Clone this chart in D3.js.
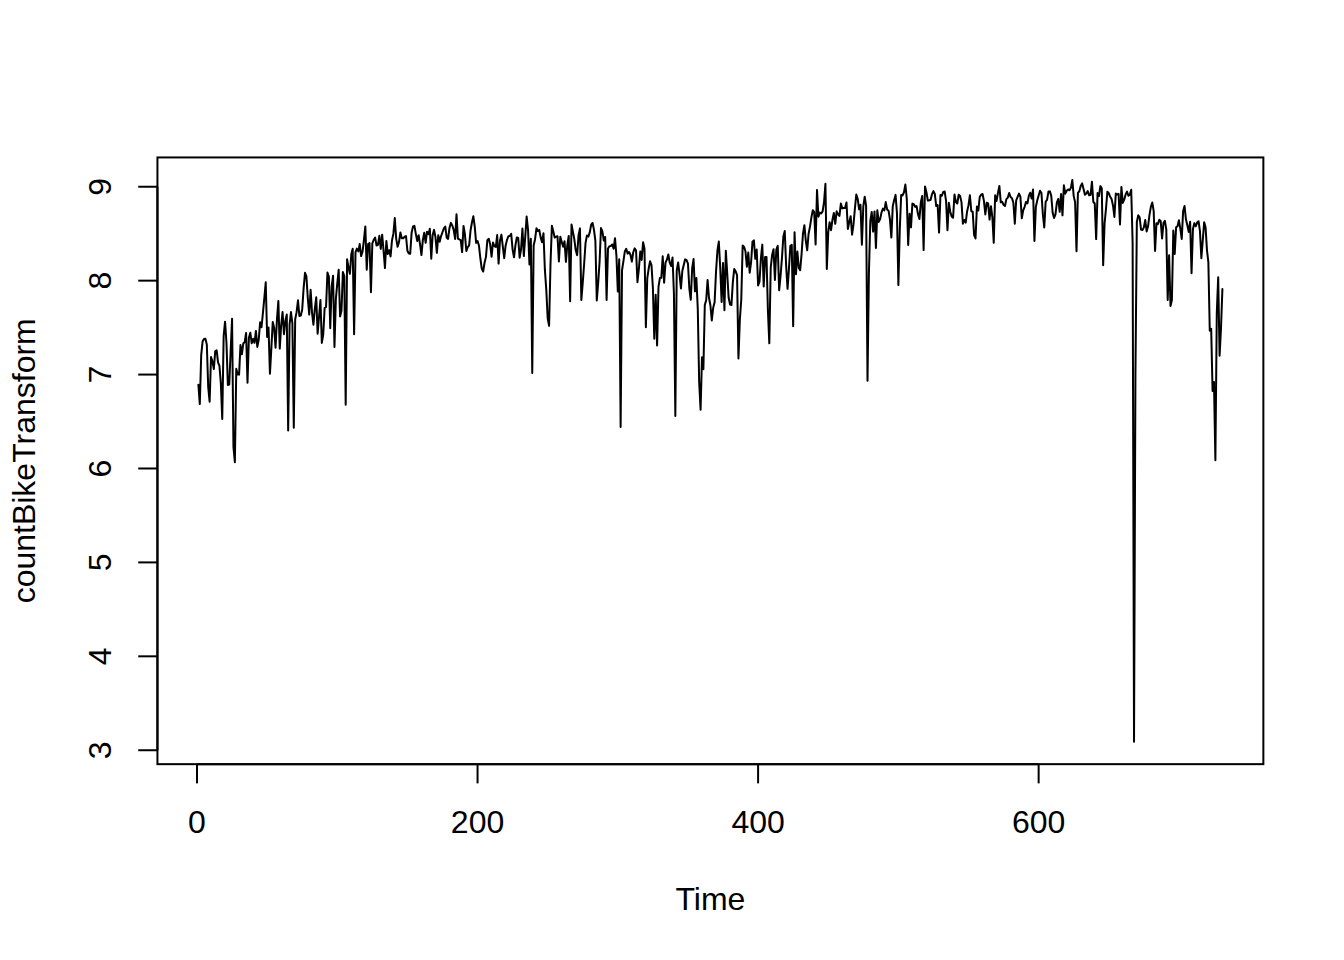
<!DOCTYPE html>
<html>
<head>
<meta charset="utf-8">
<script src="https://cdnjs.cloudflare.com/ajax/libs/d3/7.8.5/d3.min.js"></script>
<style>
body { margin:0; background:#fff; }
svg text { font-family:"Liberation Sans", Arial, Helvetica, sans-serif; font-size:32px; fill:#000; }
</style>
</head>
<body>
<svg id="chart" width="1344" height="960"></svg>
<script>
// daily bike counts, plotted as log
var countBike = [
985,801,1349,1562,1600,1606,1510,959,822,1321,
1263,1162,1406,1421,1248,1204,1000,683,1650,1927,
1543,981,986,1416,1985,506,431,1167,1098,1096,
1501,1360,1526,1550,1708,1005,1623,1712,1530,1605,
1538,1746,1472,1589,1913,1815,2115,2475,2927,1635,
1812,1107,1450,1917,1807,1461,1969,2402,1446,1851,
2134,1685,1944,2077,605,1872,2133,1891,623,1977,
2132,2417,2046,2056,2192,2744,3239,3117,2471,2077,
2703,2121,1865,2210,2496,1693,2028,2425,1536,1685,
2227,2252,3249,3115,1795,2808,3141,1471,2455,2895,
3348,2034,2162,3267,3126,795,3744,3429,3204,3944,
4189,1683,4036,4191,4073,4400,3872,4058,4595,5312,
3351,4401,4451,2633,4433,4608,4714,4333,4362,4803,
4182,4864,4105,3409,4553,3958,4123,3855,4575,4917,
5805,4660,4274,4492,4978,4677,4679,4758,4788,4098,
3982,3974,4968,5312,5342,4906,4548,4833,4401,3915,
4586,4966,4460,5020,4891,5180,3767,4844,5119,4744,
4010,4835,4507,4790,4991,5202,5305,4708,4648,5225,
5515,5362,5119,4649,6043,4665,4629,4592,4040,5336,
4881,4086,4258,4342,5084,5538,5923,5302,4458,4541,
4332,3784,3387,3285,3606,3840,4590,4656,4390,3846,
4475,4302,4266,4845,3574,4576,4866,4294,3785,4326,
4602,4780,4792,4905,4150,3820,4338,4725,4694,3805,
4153,5191,3873,4758,5895,5130,3542,4661,1115,4334,
4634,5204,5058,5115,4727,4484,4940,3351,2710,1996,
1842,3544,5345,5046,4713,4763,4785,3659,4760,4511,
4274,4539,3641,4352,4795,2395,5423,5010,4630,4120,
3907,4839,5202,2429,2918,3570,4456,4826,4765,4985,
5409,5511,5117,4563,2416,2913,3644,5217,5041,4570,
4748,2424,4195,4304,4308,4381,4187,4687,3894,2659,
3747,627,3331,3669,4068,4186,3974,4046,3926,3649,
4035,4205,4109,2933,3368,4067,3717,4486,4195,1817,
3053,3392,3663,3520,2765,1607,2566,1495,2792,3068,
3071,3867,2914,3613,3727,3940,3614,3485,3811,2594,
705,3322,3620,3190,2743,3310,3523,3740,3709,3577,
2739,2431,3403,3750,2660,3068,2209,1011,754,1317,
1162,2302,2423,2999,2485,2294,1951,2236,2368,3272,
4098,4521,3425,2376,3598,2177,4097,3214,2493,2311,
2298,2935,3376,3292,3163,1301,1977,2432,4339,4270,
4075,3456,4023,3243,3624,4509,4579,3761,4151,2832,
2947,3784,4375,2802,3830,3831,2169,1529,3422,3922,
4169,3005,4154,4318,2689,3129,3777,4773,5062,3487,
2732,3389,4322,4363,1834,4990,3194,4066,3423,3333,
3956,4916,5382,4569,4118,4911,5298,5847,6312,6192,
4378,7836,5892,6153,6093,6230,6871,8362,3372,4996,
5558,5102,5698,6133,5459,6235,6041,5936,6772,6436,
6457,6460,6857,5169,5585,5918,4862,5409,6398,7460,
7132,6370,6691,4367,6565,7290,6624,1027,3214,5633,
6196,5026,6233,4220,6304,5572,5740,6169,6421,6296,
6883,6359,6273,5728,4717,6572,7030,7429,6118,2843,
5115,7424,7384,7639,8294,7129,4359,6073,5260,6770,
6734,6536,6591,6043,5743,6855,7338,4127,8120,7641,
6998,7001,7055,7494,7736,7498,6598,6664,4972,7421,
7363,7665,7702,6978,5099,6825,6211,5905,5823,7458,
6891,6779,7442,7335,6879,5463,5687,5531,6227,6660,
7403,6241,6207,4840,4672,6569,6290,7264,7446,7499,
6969,6031,6830,6786,5713,6591,5870,4459,7410,6966,
7592,8173,6861,6904,6685,6597,7105,7216,7580,7261,
7175,6824,5464,7013,7273,7534,7286,5786,6299,6544,
6883,6784,7347,7605,7148,7865,4549,6530,7006,7375,
7765,7582,6053,5255,6917,7040,7697,7713,7350,6140,
5810,6034,6864,7112,6203,7504,5976,8227,7525,7767,
7870,7804,8009,8714,7333,6869,4073,7591,7720,8167,
8395,7907,7436,7538,7733,7393,7415,8555,6889,6778,
4639,7572,7328,8156,7965,3510,5478,6392,7691,7570,
7282,7109,6639,5875,7534,7461,7509,5424,8090,6824,
7058,7466,7693,7359,7444,7852,4459,22,1096,5566,
5986,5847,5138,5107,5259,5686,5035,5315,5992,6536,
6852,6269,4094,5495,5445,5698,5629,4669,5499,5634,
5146,2425,3910,2277,2424,5087,3959,5260,5323,5668,
5191,4649,6234,6606,5729,5375,5008,5582,3228,5170,
5501,5319,5532,5611,5047,3786,4585,5557,5267,4128,
3623,1749,1787,920,1013,441,2114,3095,1341,1796,
2729
];
var xTicks = [0, 200, 400, 600];
var yTicks = [3, 4, 5, 6, 7, 8, 9];
var xLabel = "Time";
var yLabel = "countBikeTransform";

// the transform named on the y axis
var countBikeTransform = countBike.map(function(d){ return Math.log(d) });

// R default margins c(5.1,4.1,4.1,2.1), one line = 38.4px here
var W = 1344, H = 960, LH = 38.4
var pLeft = 4.1*LH, pTop = 4.1*LH, pRight = W - 2.1*LH, pBottom = H - 5.1*LH

var n = countBikeTransform.length
var ext = d3.extent(countBikeTransform)
var xPad = 0.04*(n - 1), yPad = 0.04*(ext[1] - ext[0])

var x = d3.scaleLinear().domain([1 - xPad, n + xPad]).range([pLeft, pRight])
var y = d3.scaleLinear().domain([ext[0] - yPad, ext[1] + yPad]).range([pBottom, pTop])

var svg = d3.select("#chart")

var line = d3.line()
	.x(function(d,i){ return x(i + 1) })
	.y(function(d){ return y(d) })

svg.append("path")
	.datum(countBikeTransform)
	.attr("d", line)
	.attr("fill", "none")
	.attr("stroke", "#000")
	.attr("stroke-width", 2)
	.attr("stroke-linejoin", "round")
	.attr("stroke-linecap", "round")

// box
svg.append("rect")
	.attr("x", pLeft).attr("y", pTop)
	.attr("width", pRight - pLeft).attr("height", pBottom - pTop)
	.attr("fill", "none").attr("stroke", "#000").attr("stroke-width", 2)

// x axis
var gx = svg.append("g")
gx.append("line")
	.attr("x1", x(xTicks[0])).attr("x2", x(xTicks[xTicks.length-1]))
	.attr("y1", pBottom).attr("y2", pBottom)
	.attr("stroke", "#000").attr("stroke-width", 2)
gx.selectAll(".tick").data(xTicks).enter().append("line")
	.attr("x1", function(d){ return x(d) }).attr("x2", function(d){ return x(d) })
	.attr("y1", pBottom).attr("y2", pBottom + 0.5*LH)
	.attr("stroke", "#000").attr("stroke-width", 2)
gx.selectAll("text").data(xTicks).enter().append("text")
	.attr("x", function(d){ return x(d) })
	.attr("y", pBottom + 1.8*LH)
	.attr("text-anchor", "middle")
	.text(function(d){ return d })

// y axis
var gy = svg.append("g")
gy.append("line")
	.attr("x1", pLeft).attr("x2", pLeft)
	.attr("y1", y(yTicks[0])).attr("y2", y(yTicks[yTicks.length-1]))
	.attr("stroke", "#000").attr("stroke-width", 2)
gy.selectAll(".tick").data(yTicks).enter().append("line")
	.attr("x1", pLeft).attr("x2", pLeft - 0.5*LH)
	.attr("y1", function(d){ return y(d) }).attr("y2", function(d){ return y(d) })
	.attr("stroke", "#000").attr("stroke-width", 2)
gy.selectAll("text").data(yTicks).enter().append("text")
	.attr("transform", function(d){ return "translate(" + (pLeft - 1.2*LH) + "," + y(d) + ") rotate(-90)" })
	.attr("text-anchor", "middle")
	.text(function(d){ return d })

// titles
svg.append("text")
	.attr("x", (pLeft + pRight)/2)
	.attr("y", pBottom + 3.8*LH)
	.attr("text-anchor", "middle")
	.text(xLabel)
svg.append("text")
	.attr("transform", "translate(" + (pLeft - 3.2*LH) + "," + ((pTop + pBottom)/2) + ") rotate(-90)")
	.attr("text-anchor", "middle")
	.text(yLabel)
</script>
</body>
</html>
